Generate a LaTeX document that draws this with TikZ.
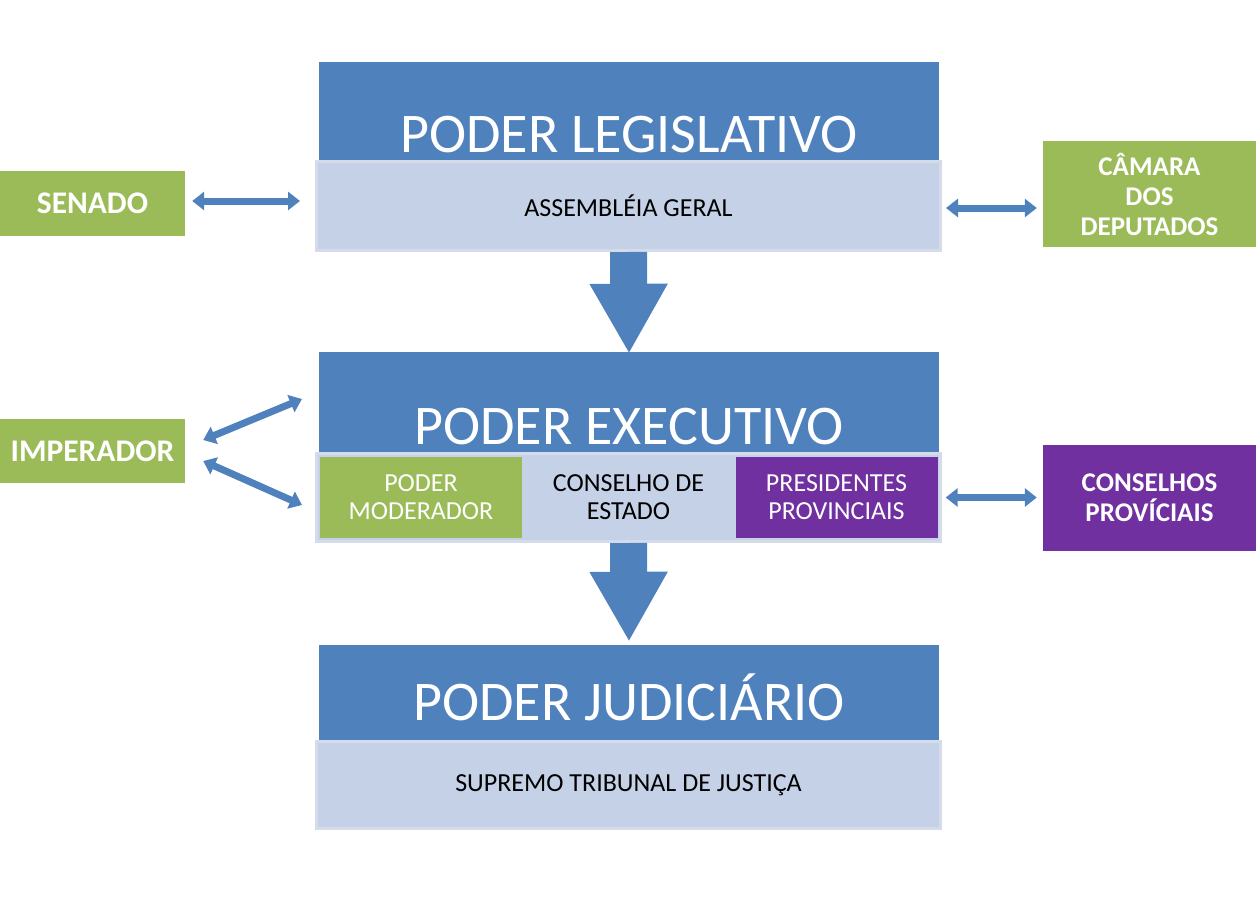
\documentclass[tikz,border=0pt]{standalone}
\usepackage{fontspec}
\setmainfont{Carlito}
\usetikzlibrary{arrows.meta}
\definecolor{hdblue}{HTML}{4F81BD}
\definecolor{lightfill}{HTML}{C5D1E7}
\definecolor{lightedge}{HTML}{D4DCEC}
\definecolor{boxgreen}{HTML}{9BBB59}
\definecolor{boxpurple}{HTML}{7030A0}
\begin{document}
\begin{tikzpicture}[x=1pt,y=-1pt,
  header/.style={fill=hdblue, minimum width=620pt, inner sep=0pt},
  title/.style={text=white, anchor=base, inner sep=0pt, font=\fontsize{56}{67}\selectfont},
  lightbox/.style={fill=lightfill, draw=lightedge, line width=3pt, inner sep=0pt,
    minimum width=624pt, align=center, font=\fontsize{26}{28}\selectfont},
  cell/.style={minimum width=202pt, minimum height=81pt, inner sep=0pt,
    align=center, font=\fontsize{26}{28}\selectfont},
  sidebox/.style={text=white, inner sep=0pt, align=center},
  dblarrow/.style={draw=hdblue, line width=7pt,
    {Triangle[length=12pt,width=18pt]}-{Triangle[length=12pt,width=18pt]}},
  bigarrow/.style={draw=hdblue, line width=37pt, -{Triangle[length=70pt,width=73pt]}},
]
  \useasboundingbox (0,0) rectangle (1259,897);
  % blue headers
  \node[header, minimum height=98pt] (leg) at (629,111) {};
  \node[header, minimum height=103pt] (exe) at (629,403.5) {};
  \node[header, minimum height=95pt] (jud) at (629,692.5) {};
  \node[title] (legtitle) at (629,152) {PODER LEGISLATIVO};
  \node[title] (exetitle) at (629,444) {PODER EXECUTIVO};
  \node[title] (judtitle) at (629,720) {PODER JUDICIÁRIO};
  % light boxes
  \node[lightbox, minimum height=89pt] (ass) at (628.5,206) {ASSEMBLÉIA GERAL};
  \node[lightbox, minimum height=88pt] (row) at (628.5,497.5) {};
  \node[lightbox, minimum height=87pt] (sup) at (628.5,785) {SUPREMO TRIBUNAL DE JUSTIÇA};
  \node[cell, fill=boxgreen, text=white] (mod) at (421,497.5) {PODER\\MODERADOR};
  \node[cell, fill=lightfill] (cons) at (628.5,497.5) {CONSELHO DE\\ESTADO};
  \node[cell, fill=boxpurple, text=white] (pres) at (836.5,497.5) {PRESIDENTES\\PROVINCIAIS};
  % side boxes
  \node[sidebox, fill=boxgreen, minimum width=185pt, minimum height=65pt,
    font=\bfseries\fontsize{31.5}{34}\selectfont] (sen) at (92.5,203.5) {SENADO};
  \node[sidebox, fill=boxgreen, minimum width=185pt, minimum height=64pt,
    font=\bfseries\fontsize{31.5}{34}\selectfont] (imp) at (92.5,451) {IMPERADOR};
  \node[sidebox, fill=boxgreen, minimum width=213pt, minimum height=106pt,
    font=\bfseries\fontsize{27}{30}\selectfont] (cam) at (1149.5,194) {CÂMARA\\DOS\\DEPUTADOS};
  \node[sidebox, fill=boxpurple, minimum width=213pt, minimum height=106pt,
    font=\bfseries\fontsize{27}{30}\selectfont] (conp) at (1149.5,498) {CONSELHOS\\PROVÍCIAIS};
  \coordinate (impA) at (302,399);
  \coordinate (impB) at (302,505);
  % arrows
  \draw[bigarrow, shorten >=-2pt] (ass.south) -- (exe.north);
  \draw[bigarrow, shorten >=3pt] (row.south) -- (jud.north);
  \draw[dblarrow, shorten <=7pt, shorten >=15pt] (sen.east |- 0,201) -- (ass.west |- 0,201);
  \draw[dblarrow, shorten <=4pt, shorten >=6pt] (ass.east |- 0,208) -- (cam.west |- 0,208);
  \draw[dblarrow] ([shift={(18,-11)}]imp.east) -- (impA);
  \draw[dblarrow] ([shift={(18,10)}]imp.east) -- (impB);
  \draw[dblarrow, shorten <=8pt, shorten >=6pt] (pres.east) -- (conp.west |- pres.east);
\end{tikzpicture}
\end{document}
